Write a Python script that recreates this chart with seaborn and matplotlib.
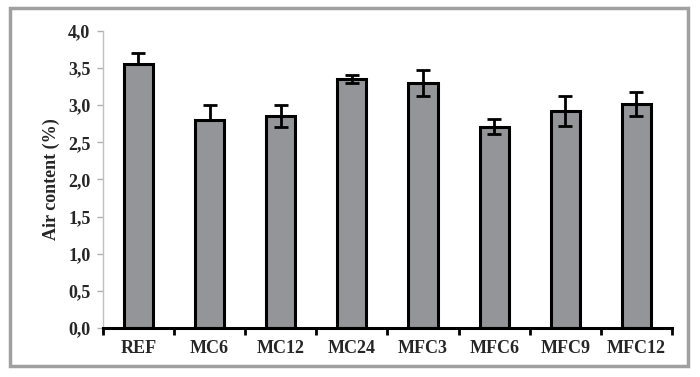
import matplotlib
matplotlib.use('Agg')
import matplotlib.pyplot as plt
import seaborn as sns
import pandas as pd
import numpy as np
from matplotlib.patches import Rectangle
from matplotlib.ticker import FuncFormatter, FixedLocator

# values
mixes = ['REF', 'MC6', 'MC12', 'MC24', 'MFC3', 'MFC6', 'MFC9', 'MFC12']
air_content = [3.55, 2.80, 2.85, 3.35, 3.30, 2.71, 2.92, 3.02]
err_upper = [0.15, 0.20, 0.15, 0.05, 0.18, 0.10, 0.20, 0.16]
# REF and MC6 only show the upper whisker
err_lower = [0.0, 0.0, 0.15, 0.05, 0.18, 0.10, 0.20, 0.16]

df = pd.DataFrame({'mix': mixes, 'air': air_content})

sns.set_style('white')
plt.rcParams['font.family'] = ['Liberation Serif', 'DejaVu Serif']
plt.rcParams['font.weight'] = 'bold'

fig = plt.figure(figsize=(7, 3.77), dpi=100)
ax = fig.add_axes([0.147, 0.13, 0.813, 0.788])

sns.barplot(data=df, x='mix', y='air', color='#939598', edgecolor='black',
            linewidth=2.2, width=0.41, saturation=1, ax=ax)

xpos = np.arange(len(mixes))
ax.errorbar(xpos, air_content, yerr=[err_lower, err_upper], fmt='none', ecolor='black',
            elinewidth=2, capsize=5, capthick=2)

ax.set_xlim(-0.5, len(mixes) - 0.5)
ax.set_ylim(0, 4.0)
ax.set_yticks(np.arange(0, 4.01, 0.5))
ax.yaxis.set_major_formatter(FuncFormatter(lambda v, p: f'{v:.1f}'.replace('.', ',')))

ax.set_xlabel('')
ax.set_ylabel('Air content (%)', fontsize=13, fontweight='bold', labelpad=6)

# tick marks on category boundaries
ax.xaxis.set_minor_locator(FixedLocator(np.arange(-0.5, len(mixes), 1.0)))
ax.tick_params(axis='x', which='major', length=0, pad=9, labelsize=13)
ax.tick_params(axis='x', which='minor', length=5, width=2, color='black', direction='out', bottom=True)
ax.tick_params(axis='y', length=4, width=1, color='#b0b0b0', direction='out', left=True, labelsize=13, pad=5)

for s in ['top', 'right']:
    ax.spines[s].set_visible(False)
ax.spines['left'].set_color('#c0c0c0')
ax.spines['left'].set_linewidth(1)
ax.spines['bottom'].set_color('black')
ax.spines['bottom'].set_linewidth(2.2)

# grey frame around the whole chart
fig.patches.append(Rectangle((0.014, 0.029), 0.969, 0.95, transform=fig.transFigure,
                             fill=False, edgecolor='#a0a0a0', linewidth=2.5))

fig.savefig('out.png', dpi=100)
